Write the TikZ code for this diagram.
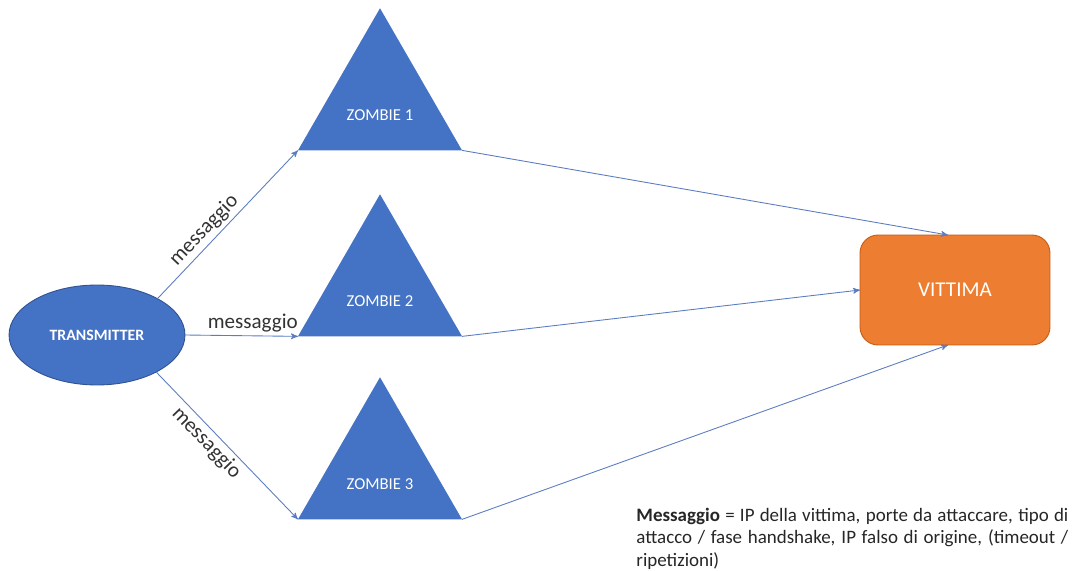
\documentclass[tikz,border=0pt]{standalone}
\usepackage{fontspec}
\setmainfont{Carlito}
\usetikzlibrary{arrows,shapes.geometric}

\definecolor{zblue}{HTML}{4472C4}
\definecolor{zedge}{HTML}{2F528F}
\definecolor{vorange}{HTML}{ED7D31}
\definecolor{vedge}{HTML}{C55A11}
\definecolor{lineblue}{HTML}{5B7CC0}

\begin{document}
\begin{tikzpicture}[x=0.02cm,y=-0.02cm,->,>=stealth',shorten >=0pt,line width=0.5pt]

            \tikzstyle{zombie}=[regular polygon,regular polygon sides=3,minimum size=3.79cm,inner sep=0pt,outer sep=0pt,fill=zblue]
            \tikzstyle{zlabel}=[text=white,font=\fontsize{9.5}{11}\selectfont]
            \tikzstyle{sender}=[ellipse,minimum width=3.52cm,minimum height=2cm,inner sep=0pt,outer sep=0pt,fill=zblue,draw=zedge,text=white,font=\fontsize{9}{11}\selectfont\bfseries]
            \tikzstyle{target}=[rectangle,rounded corners=0.36cm,minimum width=3.8cm,minimum height=2.2cm,inner sep=0pt,outer sep=0pt,fill=vorange,draw=vedge,text=white,font=\fontsize{12}{14}\selectfont]
            \tikzstyle{msg}=[font=\fontsize{12}{14}\selectfont,text=black!80,inner sep=2pt]
            \tikzstyle{link}=[draw=lineblue]

            \useasboundingbox (0,0) rectangle (1079,571);

            \node[sender]  (tx)  at (97,335)  {TRANSMITTER};
            \node[zombie,label={[zlabel,yshift=-0.24cm]center:ZOMBIE 1}] (z1) at (380,103) {};
            \node[zombie,label={[zlabel,yshift=-0.24cm]center:ZOMBIE 2}] (z2) at (380,289) {};
            \node[zombie,label={[zlabel,yshift=-0.24cm]center:ZOMBIE 3}] (z3) at (380,472) {};
            \node[target]  (vit) at (955,290) {VITTIMA};

            \draw[link] (tx.31)   -- node[msg,sloped,above,pos=0.4] {messaggio} (z1.corner 2);
            \draw[link] (tx.east) -- node[msg,above,pos=0.6] {messaggio} (z2.corner 2);
            \draw[link] (tx.-32)  -- node[msg,sloped,below,pos=0.42] {messaggio} (z3.corner 2);

            \draw[link] (z1.corner 3) -- ([xshift=-0.14cm]vit.north);
            \draw[link] (z2.corner 3) -- (vit.west);
            \draw[link] (z3.corner 3) -- ([xshift=-0.14cm]vit.south);

            \node[anchor=north west,text width=8.64cm,align=justify,inner sep=0pt,
                  font=\fontsize{10.8}{12.6}\selectfont,text=black!85] (note) at (636,508)
                {\textbf{Messaggio} = IP della vittima, porte da attaccare, tipo di attacco / fase handshake, IP falso di origine, (timeout / ripetizioni)};
        \end{tikzpicture}
\end{document}
